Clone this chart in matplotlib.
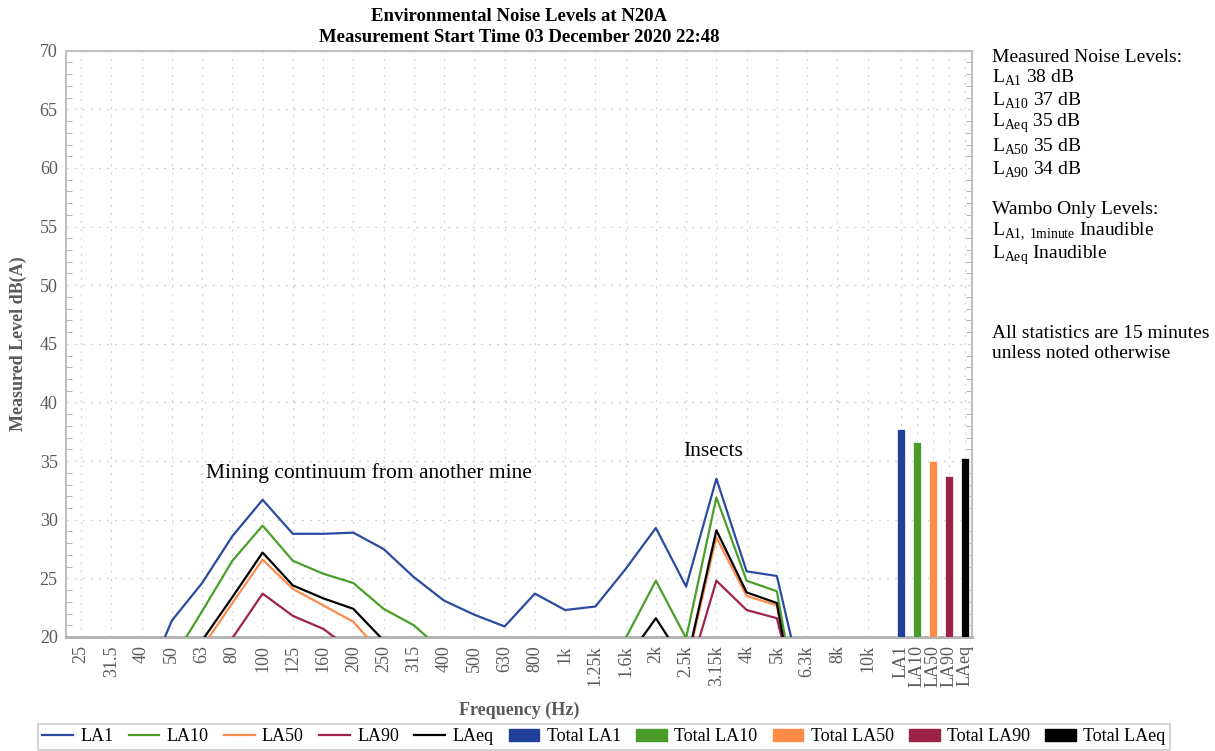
import numpy as np
from matplotlib import pyplot as plt
from matplotlib.lines import Line2D
from matplotlib.patches import Patch

plt.rcParams['font.family'] = ['Liberation Serif', 'DejaVu Serif']
plt.rcParams['mathtext.fontset'] = 'custom'
plt.rcParams['mathtext.rm'] = 'Liberation Serif'

# Третьоктавные полосы
bands = ['25', '31.5', '40', '50', '63', '80', '100', '125', '160', '200', '250',
         '315', '400', '500', '630', '800', '1k', '1.25k', '1.6k', '2k', '2.5k',
         '3.15k', '4k', '5k', '6.3k', '8k', '10k']

la1 = [12.5, 13.5, 15.3, 21.4, 24.6, 28.6, 31.7, 28.8, 28.8, 28.9, 27.5, 25.1, 23.1, 21.9,
       20.9, 23.7, 22.3, 22.6, 25.8, 29.3, 24.3, 33.5, 25.6, 25.2, 14.1, 12.0, 11.0]
la10 = [11.5, 12.5, 14.0, 18.0, 22.2, 26.5, 29.5, 26.5, 25.4, 24.6, 22.4, 21.0, 18.7, 17.0,
        16.0, 17.5, 16.5, 17.0, 19.9, 24.8, 19.9, 31.9, 24.8, 23.9, 9.4, 9.0, 8.5]
la50 = [10.0, 11.0, 12.0, 14.5, 19.1, 22.9, 26.6, 24.1, 22.7, 21.3, 18.4, 16.5, 15.0, 14.0,
        13.5, 15.0, 14.5, 15.0, 16.0, 18.3, 17.4, 28.5, 23.5, 22.7, 8.0, 7.5, 7.0]
la90 = [8.0, 9.0, 10.0, 12.0, 16.0, 19.9, 23.7, 21.8, 20.7, 18.8, 16.0, 14.5, 13.0, 12.0,
        11.5, 12.5, 12.0, 12.5, 13.5, 15.0, 16.1, 24.8, 22.3, 21.6, 11.4, 9.0, 8.0]
laeq = [12.0, 12.5, 13.5, 16.0, 19.7, 23.4, 27.2, 24.4, 23.3, 22.4, 19.7, 18.0, 16.5, 15.5,
        15.0, 16.5, 16.0, 16.5, 18.0, 21.6, 17.6, 29.1, 23.8, 22.9, 8.4, 8.0, 7.5]

total_names = ['LA1', 'LA10', 'LA50', 'LA90', 'LAeq']
total_values = [37.7, 36.6, 35.0, 33.7, 35.3]

line_colors = ['#2a4ca0', '#4a9e2a', '#ff8c4a', '#a0234a', '#000000']
bar_colors = ['#1f3f99', '#4a9c2a', '#ff8c46', '#9c2246', '#000000']

fig = plt.figure(figsize=(12.15, 7.51), dpi=100)
ax = fig.add_axes([0.0543, 0.1518, 0.7457, 0.7807])

x = np.arange(len(bands))
series = [la1, la10, la50, la90, laeq]
for vals, c, name in zip(series, line_colors, total_names):
    ax.plot(x, vals, color=c, lw=1.6, label=name, zorder=3)

# Столбцы итоговых уровней
xb = len(bands) + 0.1 + 0.53 * np.arange(len(total_names))
ax.bar(xb, total_values, width=0.25, color=bar_colors, edgecolor='white', lw=0.5, zorder=3)

ax.set_xlim(-0.5, 29.45)
ax.set_ylim(20, 70)
ax.set_yticks(np.arange(20, 71, 5))
ax.set_yticks(np.arange(20, 71, 1), minor=True)
ax.set_xticks(list(x) + list(xb))
ax.set_xticklabels(bands + total_names, rotation=90)

ax.grid(True, which='major', color='#d0d0d0', ls=(0, (1.5, 5)), lw=0.9)
ax.tick_params(axis='both', which='major', length=0, labelsize=13, labelcolor='#595959', pad=6)
ax.tick_params(axis='y', which='minor', direction='in', length=4, color='#a6a6a6',
               left=True, right=True)
ax.tick_params(axis='y', which='major', right=True)
for s in ax.spines.values():
    s.set_color('#bfbfbf')
    s.set_linewidth(1.5)
ax.spines['bottom'].set_color('#b0b0b0')
ax.spines['bottom'].set_linewidth(2)

ax.set_ylabel('Measured Level dB(A)', fontsize=13, fontweight='bold', color='#595959', labelpad=9)
ax.set_xlabel('Frequency (Hz)', fontsize=13, fontweight='bold', color='#595959', labelpad=10)

ax.set_title('Environmental Noise Levels at N20A\nMeasurement Start Time 03 December 2020 22:48',
             fontsize=13.5, fontweight='bold', linespacing=1.3, pad=6)

ax.text(9.5, 34.0, 'Mining continuum from another mine', fontsize=15.5, ha='center', va='center')
ax.text(20.9, 35.8, 'Insects', fontsize=15.5, ha='center', va='center')

# Текст справа
side = [
    (58, 'Measured Noise Levels:'),
    (78, r'L$_{\mathregular{A1}}$ 38 dB'),
    (101, r'L$_{\mathregular{A10}}$ 37 dB'),
    (123, r'L$_{\mathregular{Aeq}}$ 35 dB'),
    (147, r'L$_{\mathregular{A50}}$ 35 dB'),
    (170, r'L$_{\mathregular{A90}}$ 34 dB'),
    (210, 'Wambo Only Levels:'),
    (231, r'L$_{\mathregular{A1,\,1minute}}$ Inaudible'),
    (255, r'L$_{\mathregular{Aeq}}$ Inaudible'),
    (334, 'All statistics are 15 minutes'),
    (354, 'unless noted otherwise'),
]
for ypix, txt in side:
    fig.text(992 / 1215, 1 - ypix / 751, txt, fontsize=14, ha='left', va='center')

handles = [Line2D([0], [0], color=c, lw=1.6) for c in line_colors]
handles += [Patch(color=c) for c in bar_colors]
labels = total_names + ['Total ' + n for n in total_names]
leg = fig.legend(handles, labels, loc='center', bbox_to_anchor=(0.497, 0.019), ncol=10,
                 fontsize=13, frameon=True, fancybox=False, edgecolor='#bfbfbf',
                 columnspacing=0.85, handlelength=1.7, handletextpad=0.4, borderpad=0.25)
leg.get_frame().set_linewidth(1.2)

fig.savefig('out.png', dpi=100)
